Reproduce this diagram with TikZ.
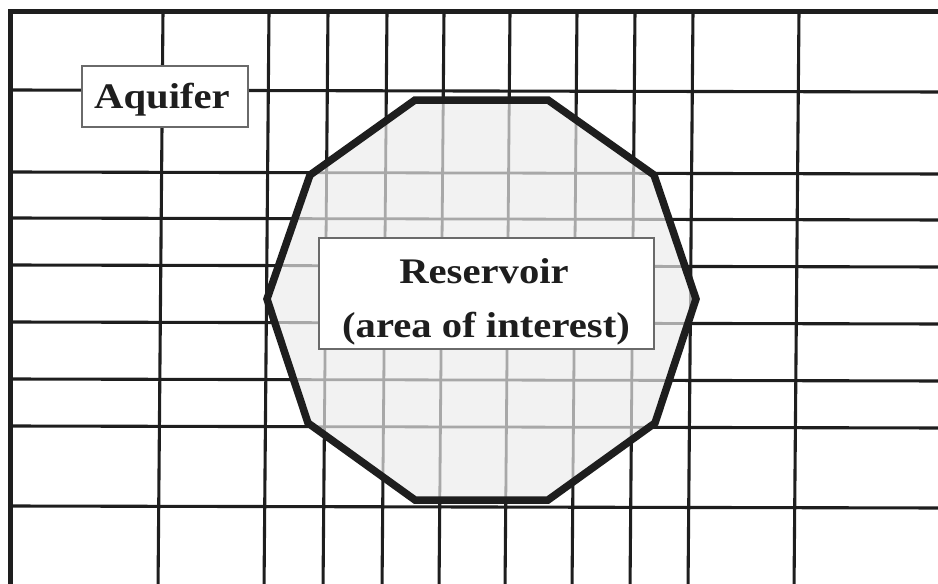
\documentclass[tikz,border=0pt]{standalone}
\usepackage{fontspec}
\setmainfont{Liberation Serif}
\newfontfamily\labelfont[FakeStretch=1.13]{Liberation Serif}
\definecolor{ink}{HTML}{1E1E1E}
\definecolor{innergrid}{HTML}{A8A8A8}
\definecolor{resfill}{HTML}{F2F2F2}
\definecolor{boxedge}{HTML}{6A6A6A}
\tikzset{
  gridline/.style={draw=ink, line width=3.1pt},
  gridlinein/.style={draw=innergrid, line width=2.8pt},
  frameline/.style={draw=ink, line width=5pt},
  boundary/.style={draw=ink, line width=7.5pt, line join=miter},
  labelbox/.style={draw=boxedge, line width=1.3pt, fill=white, inner sep=0pt},
  labeltext/.style={inner sep=0pt, anchor=base, text=ink,
    font=\labelfont\fontsize{36}{54}\selectfont\bfseries},
}
\begin{document}
\begin{tikzpicture}[x=1pt, y=-1pt]
  \useasboundingbox (0,0) rectangle (938,584);
  \clip (0,0) rectangle (938,584);

  % corners of the reservoir outline
  \coordinate (p1) at (415,100);
  \coordinate (p2) at (548,100);
  \coordinate (p3) at (654,175);
  \coordinate (p4) at (696,299);
  \coordinate (p5) at (655,423);
  \coordinate (p6) at (548,500);
  \coordinate (p7) at (415,500);
  \coordinate (p8) at (308,423);
  \coordinate (p9) at (267,299);
  \coordinate (p10) at (310,175);

  \def\gridcolumns{163,269,328,387,444,510,577,635,693,799}
  \def\gridrows{90,172,218,265,322,379,426,506}

  % aquifer grid
  \foreach \gx in \gridcolumns
    \draw[gridline] (\gx,11) -- (\gx-5,590);
  \foreach \gy in \gridrows
    \draw[gridline] (10,\gy) -- (945,\gy+2);

  % reservoir area with its grey grid
  \fill[resfill] (p1) -- (p2) -- (p3) -- (p4) -- (p5) -- (p6) -- (p7) -- (p8) -- (p9) -- (p10) -- cycle;
  \begin{scope}
    \clip (p1) -- (p2) -- (p3) -- (p4) -- (p5) -- (p6) -- (p7) -- (p8) -- (p9) -- (p10) -- cycle;
    \foreach \gx in \gridcolumns
      \draw[gridlinein] (\gx,11) -- (\gx-5,590);
    \foreach \gy in \gridrows
      \draw[gridlinein] (10,\gy) -- (945,\gy+2);
  \end{scope}
  \draw[boundary] (p1) -- (p2) -- (p3) -- (p4) -- (p5) -- (p6) -- (p7) -- (p8) -- (p9) -- (p10) -- cycle;

  % outer frame
  \draw[frameline] (8.1,11.6) -- (945,11.6);
  \draw[frameline] (10.6,9.1) -- (10.6,590);

  % label boxes and their texts
  \node[labelbox, minimum width=166pt, minimum height=61pt] (aquiferbox) at (165,96.5) {};
  \node[labeltext] (aquifer) at (162,108.7) {Aquifer};

  \node[labelbox, minimum width=335pt, minimum height=111pt] (reservoirbox) at (486.5,293.5) {};
  \node[labeltext] (reservoir) at (484,283) {Reservoir};
  \node[labeltext] (interest) at (486,337) {(area of interest)};
\end{tikzpicture}
\end{document}
